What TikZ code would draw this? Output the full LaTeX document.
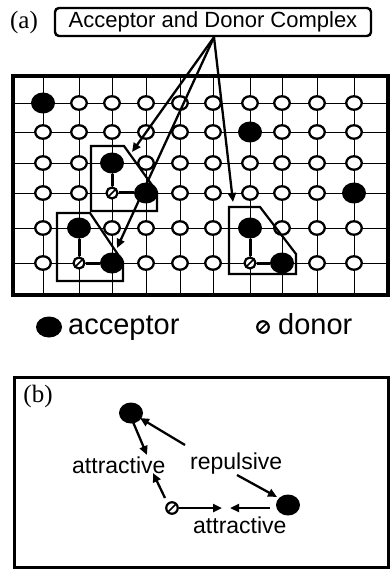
\documentclass[tikz,border=0pt]{standalone}
\usepackage{fontspec}
\newfontfamily\labsans{Liberation Sans}
\newfontfamily\tagserif{Liberation Serif}
\usetikzlibrary{shapes.geometric,arrows.meta}
\begin{document}
\begin{tikzpicture}[x=1pt,y=-1pt,
  wcirc/.style={ellipse,draw,fill=white,line width=2.3pt,minimum width=15.5pt,minimum height=13.5pt,inner sep=0pt},
  acc/.style={ellipse,fill=black,minimum width=24pt,minimum height=21pt,inner sep=0pt},
  don/.style={circle,draw,fill=white,line width=2.2pt,minimum size=11pt,inner sep=0pt,
    path picture={\draw[line width=1.7pt] ([shift={(-3.5pt,-3.5pt)}]path picture bounding box.center) -- ([shift={(3.5pt,3.5pt)}]path picture bounding box.center);}},
  gridline/.style={line width=0.9pt},
  frame/.style={line width=3.4pt},
  cplx/.style={line width=2.2pt,line join=miter},
  bond/.style={line width=3pt},
  ptr/.style={line width=2.3pt,-{Triangle[length=9pt,width=8pt]}},
  lbl/.style={font=\labsans\fontsize{23}{27}\selectfont,inner sep=0pt,anchor=base west},
  tag/.style={font=\tagserif\fontsize{25}{29}\selectfont,inner sep=0pt}
]
\useasboundingbox (0,0) rectangle (389,569);
\def\CX{{43,79,112,146,180,213,250,282,317,354}}
\def\RY{{103,132,163,193,228,263}}

% ---------- panel (a) ----------
\node[tag] (ta) at (24,22) {(a)};
\node[draw,rounded corners=4pt,line width=2.4pt,minimum width=316pt,minimum height=28pt,inner sep=0pt,
      font=\labsans\fontsize{22}{26}\selectfont] (lab) at (213,22) {Acceptor and Donor Complex};

% grid lines
\foreach \c in {1,...,10}{
  \pgfmathsetmacro\px{\CX[\c-1]}
  \coordinate (vt\c) at (\px,76);
  \coordinate (vb\c) at (\px,295);
  \draw[gridline] (vt\c) -- (vb\c);
}
\foreach \r in {1,...,6}{
  \pgfmathsetmacro\py{\RY[\r-1]}
  \coordinate (hl\r) at (13,\py);
  \coordinate (hr\r) at (389,\py);
  \draw[gridline] (hl\r) -- (hr\r);
}
\draw[frame] (13,76) rectangle (388,295);

% white sites
\foreach \r/\cl in {1/{2,3,4,5,6,7,8,9,10},2/{1,2,3,4,5,6,8,9,10},3/{1,2,4,5,6,7,8,9,10},
                    4/{1,2,5,6,7,8,9},5/{1,3,4,5,6,8,9,10},6/{1,4,5,6,9,10}}{
  \foreach \c in \cl {
    \pgfmathsetmacro\px{\CX[\c-1]}
    \pgfmathsetmacro\py{\RY[\r-1]}
    \node[wcirc] (g\c-\r) at (\px,\py) {};
  }
}
% acceptors
\foreach \c/\r in {1/1,7/2,3/3,4/4,10/4,2/5,7/5,3/6,8/6}{
  \pgfmathsetmacro\px{\CX[\c-1]}
  \pgfmathsetmacro\py{\RY[\r-1]}
  \node[acc] (a\c-\r) at (\px,\py) {};
}
% donors
\foreach \c/\r in {3/4,2/6,7/6}{
  \pgfmathsetmacro\px{\CX[\c-1]}
  \pgfmathsetmacro\py{\RY[\r-1]}
  \node[don] (d\c-\r) at (\px,\py) {};
}
% bonds
\draw[bond] (a3-3) -- (d3-4) -- (a4-4);
\draw[bond] (a2-5) -- (d2-6) -- (a3-6);
\draw[bond] (a7-5) -- (d7-6) -- (a8-6);

% complex outlines
\draw[cplx] (91,146) -- (124,146) -- (157,192) -- (157,211) -- (91,211) -- cycle;
\draw[cplx] (57,213) -- (90,213) -- (123,262) -- (123,281) -- (57,281) -- cycle;
\draw[cplx] (229,207) -- (260,207) -- (296,254) -- (296,274) -- (229,274) -- cycle;

% pointers
\coordinate (src) at ([xshift=1pt]lab.south);
\coordinate (t1) at (132,152);
\coordinate (t2) at (117,248);
\coordinate (t3) at (233,202);
\draw[ptr] (src) -- (t1);
\draw[ptr] (src) -- (t2);
\draw[ptr] (src) -- (t3);

% legend
\node[acc,minimum width=26pt,minimum height=21pt] (la) at (49,327) {};
\node[lbl,font=\labsans\fontsize{29}{33}\selectfont] (lat) at (68,334) {acceptor};
\node[don,minimum size=11.5pt] (ld) at (263,327) {};
\node[lbl,font=\labsans\fontsize{29}{33}\selectfont] (ldt) at (278,334) {donor};

% ---------- panel (b) ----------
\draw[frame,line width=3pt] (14,377) rectangle (388,567);
\node[tag] (tb) at (38,396) {(b)};
\node[acc] (b1) at (131,413) {};
\node[acc] (b2) at (288,505) {};
\node[don,minimum size=11.5pt] (bd) at (172,508) {};
\node[lbl] (at1) at (72,473) {attractive};
\node[lbl] (rep) at (190,469) {repulsive};
\node[lbl] (at2) at (193,533) {attractive};

\coordinate (p1a) at (133,422); \coordinate (p1b) at (147,455);
\coordinate (p2a) at (185,445); \coordinate (p2b) at (140,418);
\coordinate (p3a) at (165,498); \coordinate (p3b) at (153,473);
\coordinate (p4a) at (237,475); \coordinate (p4b) at (277,497);
\coordinate (p5b) at (222,508);
\coordinate (p6a) at (270,508); \coordinate (p6b) at (230,508);
\draw[ptr] (p1a) -- (p1b);
\draw[ptr] (p2a) -- (p2b);
\draw[ptr] (p3a) -- (p3b);
\draw[ptr] (p4a) -- (p4b);
\draw[ptr] (bd) -- (p5b);
\draw[ptr] (p6a) -- (p6b);
\end{tikzpicture}
\end{document}
